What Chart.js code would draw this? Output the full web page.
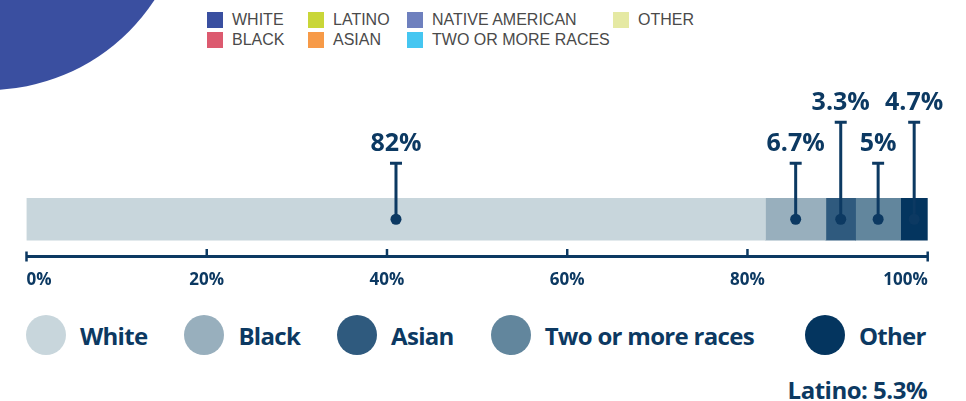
<!DOCTYPE html>
<html>
<head>
<meta charset="utf-8">
<title>Population by race</title>
<script src="https://cdn.jsdelivr.net/npm/chart.js@4/dist/chart.umd.min.js"></script>
<style>
  html, body { margin: 0; padding: 0; background: #fff; }
  body { width: 966px; height: 401px; position: relative; overflow: hidden; font-family: "Open Sans", sans-serif; }
  #blob { position: absolute; left: -211px; top: -308px; width: 398px; height: 398px; border-radius: 50%; background: #3a4fa0; }
  #key { position: absolute; left: 207px; top: 10px; display: grid; grid-auto-flow: column;
         grid-template-rows: 20px 20px; grid-template-columns: 101px 99px 206px auto; }
  #key .item { display: flex; align-items: center; font: 16px "Liberation Sans", Arial, sans-serif; color: #4a4a4a; white-space: nowrap; }
  #key .sw { width: 16px; height: 16px; margin-right: 9px; flex: none; }
  #box { position: absolute; left: 0; top: 0; width: 966px; height: 300px; }
  #legend { position: absolute; left: 26px; top: 315px; display: flex; gap: 37px; }
  #legend .item { display: flex; align-items: center; height: 40px; }
  #legend .item:last-child { margin-left: 14px; }
  #legend .dot { width: 40px; height: 40px; border-radius: 50%; flex: none; }
  #legend .txt { margin-left: 14px; font: 700 24px "Open Sans", sans-serif; letter-spacing: -0.7px; color: #0c3962; white-space: nowrap; }
  #note { position: absolute; right: 39px; top: 378px; font: 700 24px/24px "Open Sans", sans-serif; letter-spacing: -0.5px; color: #0c3962; }
</style>
</head>
<body>
<div id="blob"></div>
<div id="key"></div>
<div id="box"><canvas id="chart" width="966" height="300"></canvas></div>
<div id="legend"></div>
<div id="note"></div>
<script>
// Share of population by race, in percent
const groups = ['White', 'Black', 'Asian', 'Two or more races', 'Other'];
const shares = [82, 6.7, 3.3, 5, 4.7];
const latinoShare = 5.3;
const tickValues = [0, 20, 40, 60, 80, 100];

// Colour key shown in the header
const keyLabels = ['WHITE', 'BLACK', 'LATINO', 'ASIAN', 'NATIVE AMERICAN', 'TWO OR MORE RACES', 'OTHER'];
const keyColors = ['#3a4fa0', '#dc5a6f', '#c9d638', '#f79a47', '#6e80be', '#45c6f1', '#e5e9a3'];

// Segment palette
const groupColors = ['#c8d6dc', '#98afbd', '#2f5a7e', '#62869d', '#04355f'];
const NAVY = '#0c3962';

// Header key
const keyEl = document.getElementById('key');
keyLabels.forEach((label, i) => {
  const item = document.createElement('div');
  item.className = 'item';
  item.innerHTML = '<span class="sw" style="background:' + keyColors[i] + '"></span>' + label;
  keyEl.appendChild(item);
});

// Pin markers with value labels above each segment
const pinPlugin = {
  id: 'pins',
  afterDatasetsDraw(chart, args, opts) {
    const { ctx, chartArea } = chart;
    ctx.save();
    ctx.strokeStyle = NAVY;
    ctx.fillStyle = NAVY;
    ctx.lineWidth = 3;
    ctx.font = '700 25px "Open Sans", sans-serif';
    ctx.textAlign = 'center';
    ctx.textBaseline = 'alphabetic';
    chart.data.datasets.forEach((ds, i) => {
      const bar = chart.getDatasetMeta(i).data[0];
      if (!bar) return;
      const x0 = Math.max(Math.min(bar.base, bar.x), chartArea.left);
      const x1 = Math.min(Math.max(bar.base, bar.x), chartArea.right);
      const cx = (x0 + x1) / 2;
      const cy = bar.y;
      const top = cy - (opts.levels[i] ? opts.high : opts.low);
      ctx.beginPath();
      ctx.moveTo(cx, cy);
      ctx.lineTo(cx, top);
      ctx.moveTo(cx - 6, top);
      ctx.lineTo(cx + 6, top);
      ctx.stroke();
      ctx.beginPath();
      ctx.arc(cx, cy, 5.5, 0, Math.PI * 2);
      ctx.fill();
      ctx.fillText(String(ds.data[0]) + '%', cx, top - 12);
    });
    ctx.restore();
  }
};

// Axis baseline with short tick marks pointing up
const axisPlugin = {
  id: 'axisLine',
  afterDatasetsDraw(chart) {
    const { ctx, chartArea } = chart;
    const xs = chart.scales.x;
    const y = chartArea.bottom;
    ctx.save();
    ctx.strokeStyle = NAVY;
    ctx.lineWidth = 3;
    ctx.beginPath();
    ctx.moveTo(chartArea.left, y);
    ctx.lineTo(chartArea.right, y);
    ctx.stroke();
    ctx.lineWidth = 2.5;
    const n = xs.ticks.length;
    xs.ticks.forEach((t, k) => {
      const x = xs.getPixelForValue(t.value);
      const edge = k === 0 || k === n - 1;
      ctx.beginPath();
      ctx.moveTo(x, y - (edge ? 5 : 7.5));
      ctx.lineTo(x, y + (edge ? 5 : 0));
      ctx.stroke();
    });
    ctx.restore();
  }
};

const chart = new Chart(document.getElementById('chart'), {
  type: 'bar',
  data: {
    labels: ['Population'],
    datasets: groups.map((g, i) => ({
      label: g,
      data: [shares[i]],
      backgroundColor: groupColors[i],
      borderWidth: 0,
      barThickness: 42,
      stack: 'all',
      clip: 0
    }))
  },
  options: {
    indexAxis: 'y',
    responsive: false,
    animation: false,
    layout: { padding: { top: 182, left: 26.5, right: 38.3, bottom: 0 } },
    scales: {
      x: {
        stacked: true,
        min: 0,
        max: 100,
        grid: { display: false, drawTicks: false },
        border: { display: false },
        afterBuildTicks: (s) => { s.ticks = tickValues.map(v => ({ value: v })); },
        afterFit: (s) => { s.height = 43.5; },
        ticks: {
          align: 'inner',
          padding: 13,
          color: NAVY,
          font: { family: '"Open Sans", sans-serif', size: 17, weight: '700' },
          callback: (v) => v + '%'
        }
      },
      y: { stacked: true, display: false }
    },
    plugins: {
      legend: { display: false },
      tooltip: { enabled: false },
      pins: { levels: [0, 0, 1, 0, 1], low: 56, high: 97 }
    }
  },
  plugins: [pinPlugin, axisPlugin]
});

// Bottom legend built from the chart's datasets
const legendEl = document.getElementById('legend');
chart.data.datasets.forEach((ds) => {
  const item = document.createElement('div');
  item.className = 'item';
  item.innerHTML = '<span class="dot" style="background:' + ds.backgroundColor + '"></span><span class="txt">' + ds.label + '</span>';
  legendEl.appendChild(item);
});

document.getElementById('note').textContent = 'Latino: ' + latinoShare + '%';
</script>
</body>
</html>
